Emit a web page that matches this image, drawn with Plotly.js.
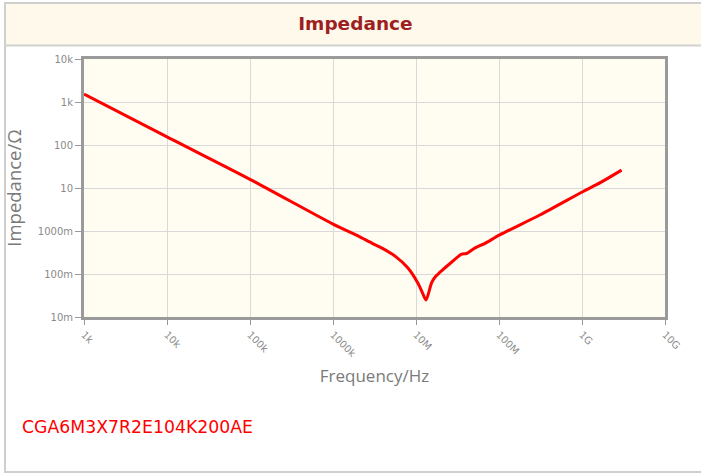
<!DOCTYPE html>
<html>
<head>
<meta charset="utf-8">
<script src="https://cdn.plot.ly/plotly-3.0.1.min.js"></script>
<style>
html,body{margin:0;padding:0;background:#fff;}
#chart{width:701px;height:476px;}
</style>
</head>
<body>
<div id="chart"></div>
<script>
// Frequency (Hz) and impedance (Ohm)
const freqHz = [1e3, 1e4, 1e5, 1e6, 2.0e6, 3.0e6, 4.0e6, 5.6e6, 8.0e6, 1.06e7, 1.2e7, 1.32e7, 1.54e7, 1.7e7, 1.95e7, 2.7e7, 3.55e7, 4.07e7, 5.1e7, 6.7e7, 1.02e8, 3.1e8, 1.02e9, 1.66e9, 3.0e9];
const impedanceOhm = [1520, 154, 15.9, 1.45, 0.77, 0.51, 0.39, 0.26, 0.138, 0.06, 0.036, 0.025, 0.062, 0.085, 0.11, 0.19, 0.29, 0.30, 0.40, 0.51, 0.81, 2.35, 8.2, 13.3, 26];

const xTickVals = [1e3, 1e4, 1e5, 1e6, 1e7, 1e8, 1e9, 1e10];
const xTickText = ["1k", "10k", "100k", "1000k", "10M", "100M", "1G", "10G"];
const yTickVals = [1e-2, 1e-1, 1, 10, 100, 1e3, 1e4];
const yTickText = ["10m", "100m", "1000m", "10", "100", "1k", "10k"];

const partName = "CGA6M3X7R2E104K200AE";

const L = 84, R = 665, T = 59, B = 317;
const W = R - L, H = B - T;
const px = x => (x - L) / W;
const py = y => (B - y) / H;

const trace = {
  x: freqHz, y: impedanceOhm, type: 'scatter', mode: 'lines',
  line: {color: '#ff0000', width: 3, shape: 'spline', smoothing: 0.8},
  hoverinfo: 'x+y'
};

const tickFont = {family: 'DejaVu Sans', size: 10, color: '#8a8a8a'};

const layout = {
  width: 701, height: 476,
  margin: {l: L, r: 701 - R, t: T, b: 476 - B, pad: 0},
  paper_bgcolor: '#ffffff',
  plot_bgcolor: '#fffcf2',
  showlegend: false,
  title: {
    text: '<b>Impedance</b>',
    font: {family: 'DejaVu Sans', size: 18.5, color: '#9e1f22'},
    x: 0.507, xanchor: 'center', y: 1 - 24 / 476, yanchor: 'middle', yref: 'container'
  },
  xaxis: {
    type: 'log', range: [3, 10],
    tickvals: xTickVals, ticktext: xTickText, tickangle: 45,
    tickfont: tickFont, ticks: 'outside', ticklen: 5, tickcolor: '#999',
    showgrid: true, gridcolor: '#d9d9d9', gridwidth: 1,
    showline: true, linecolor: '#9a9a9a', linewidth: 3, mirror: true,
    zeroline: false,
    title: {text: 'Frequency/Hz', font: {family: 'Open Sans', size: 17, color: '#7a7a7a'}, standoff: 12}
  },
  yaxis: {
    type: 'log', range: [-2, 4],
    tickvals: yTickVals, ticktext: yTickText,
    tickfont: tickFont, ticks: 'outside', ticklen: 6, tickcolor: '#999',
    showgrid: true, gridcolor: '#d9d9d9', gridwidth: 1,
    showline: true, linecolor: '#9a9a9a', linewidth: 3, mirror: true,
    zeroline: false,
    title: {text: 'Impedance/Ω', font: {family: 'Open Sans', size: 18.5, color: '#7a7a7a'}, standoff: 12}
  },
  shapes: [
    {type: 'rect', xref: 'paper', yref: 'paper', layer: 'below',
     x0: px(5), x1: px(720), y0: py(472), y1: py(3),
     line: {color: '#cfcfcf', width: 2}, fillcolor: 'rgba(0,0,0,0)'},
    {type: 'rect', xref: 'paper', yref: 'paper', layer: 'below',
     x0: px(6), x1: px(720), y0: py(45), y1: py(4),
     line: {width: 0}, fillcolor: '#fff9ec'},
    {type: 'line', xref: 'paper', yref: 'paper', layer: 'below',
     x0: px(5), x1: px(720), y0: py(45.5), y1: py(45.5),
     line: {color: '#d2d2d2', width: 2}}
  ],
  annotations: [
    {text: partName, xref: 'paper', yref: 'paper', x: px(20), y: py(427),
     xanchor: 'left', yanchor: 'middle', showarrow: false,
     font: {family: 'DejaVu Sans', size: 17.3, color: '#ff0000'}}
  ]
};

Plotly.newPlot('chart', [trace], layout, {displayModeBar: false, staticPlot: true});
</script>
</body>
</html>
